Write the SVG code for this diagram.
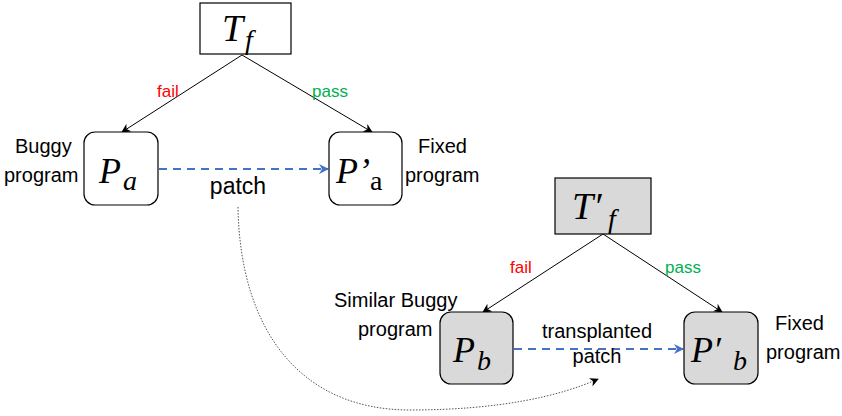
<svg xmlns="http://www.w3.org/2000/svg" width="842" height="416" viewBox="0 0 842 416">
<defs>
<style>
.box{fill:#fff;stroke:#000;stroke-width:1.2}
.gbox{fill:#d9d9d9;stroke:#000;stroke-width:1.2}
.lbl{font-family:"Liberation Sans",Arial,sans-serif;font-size:20px;fill:#000}
.math{font-family:"Liberation Serif","Times New Roman",serif;font-style:italic;fill:#000}
.up{font-style:normal}
.fail{font-family:"Liberation Sans",Arial,sans-serif;font-size:17px;fill:#ff0000}
.pass{font-family:"Liberation Sans",Arial,sans-serif;font-size:17px;fill:#00b050}
.edge{stroke:#000;stroke-width:1;fill:none}
.dash{stroke:#4472c4;stroke-width:2;stroke-dasharray:8,6;fill:none}
.dot{stroke:#555;stroke-width:1;stroke-dasharray:1.5,1.5;fill:none}
</style>
<marker id="ah" viewBox="0 0 10 10" refX="9" refY="5" markerWidth="9" markerHeight="9" markerUnits="userSpaceOnUse" orient="auto"><path d="M0,0 L10,5 L0,10 L3,5 Z" fill="#000"/></marker>
<marker id="ahb" viewBox="0 0 10 10" refX="9" refY="5" markerWidth="10" markerHeight="10" markerUnits="userSpaceOnUse" orient="auto"><path d="M0,0 L10,5 L0,10 L3,5 Z" fill="#4472c4"/></marker>
<marker id="ahd" viewBox="0 0 10 10" refX="9" refY="5" markerWidth="9" markerHeight="9" markerUnits="userSpaceOnUse" orient="auto"><path d="M0,0 L10,5 L0,10 L3,5 Z" fill="#000"/></marker>
</defs>
<rect width="842" height="416" fill="#fff"/>
<g id="connectors">
<line class="edge" x1="242" y1="55" x2="122" y2="132" marker-end="url(#ah)"/>
<line class="edge" x1="242" y1="55" x2="372" y2="132" marker-end="url(#ah)"/>
<line class="edge" x1="603" y1="234" x2="483" y2="312" marker-end="url(#ah)"/>
<line class="edge" x1="603" y1="234" x2="722" y2="312" marker-end="url(#ah)"/>
<line class="dash" x1="159" y1="169" x2="328" y2="169" marker-end="url(#ahb)"/>
<line class="dash" x1="514" y1="349" x2="683" y2="349" marker-end="url(#ahb)"/>
<path class="dot" d="M238,207 C240,330 300,410 410,410 C500,410 560,396 598,379" marker-end="url(#ahd)"/>
<text class="fail" x="157" y="97">fail</text>
<text class="pass" x="312" y="97">pass</text>
<text class="fail" x="510" y="273">fail</text>
<text class="pass" x="665" y="273">pass</text>
<text class="lbl" x="238" y="194" text-anchor="middle" style="font-size:23px">patch</text>
<text class="lbl" x="597" y="338" text-anchor="middle">transplanted</text>
<text class="lbl" x="597" y="363" text-anchor="middle">patch</text>
</g>
<g id="Tf">
<rect class="box" x="200" y="3" width="91" height="51"/>
<text class="math" x="222" y="41" font-size="38">T</text>
<text class="math" x="245" y="49" font-size="28">f</text>
</g>
<g id="Pa">
<rect class="box" x="84" y="132" width="74" height="73" rx="11"/>
<text class="math" x="99" y="183" font-size="36">P</text>
<text class="math" x="123" y="190" font-size="28">a</text>
<text class="lbl" x="15" y="153">Buggy</text>
<text class="lbl" x="4" y="182">program</text>
</g>
<g id="Ppa">
<rect class="box" x="329" y="132" width="73" height="73" rx="11"/>
<text class="math" x="336" y="183" font-size="36">P’</text>
<text class="math up" x="370" y="190" font-size="28">a</text>
<text class="lbl" x="418" y="153">Fixed</text>
<text class="lbl" x="405" y="182">program</text>
</g>
<g id="Tpf">
<rect class="gbox" x="555" y="178" width="96" height="56"/>
<text class="math" x="572" y="219" font-size="38">T′</text>
<text class="math" x="608" y="228" font-size="28">f</text>
</g>
<g id="Pb">
<rect class="gbox" x="440" y="312" width="73" height="72" rx="11"/>
<text class="math" x="453" y="362" font-size="36">P</text>
<text class="math" x="477" y="370" font-size="28">b</text>
<text class="lbl" x="334" y="307">Similar Buggy</text>
<text class="lbl" x="358" y="336">program</text>
</g>
<g id="Ppb">
<rect class="gbox" x="684" y="312" width="74" height="72" rx="11"/>
<text class="math" x="691" y="362" font-size="36">P′</text>
<text class="math" x="733" y="370" font-size="28">b</text>
<text class="lbl" x="775" y="330">Fixed</text>
<text class="lbl" x="766" y="359">program</text>
</g>
</svg>
